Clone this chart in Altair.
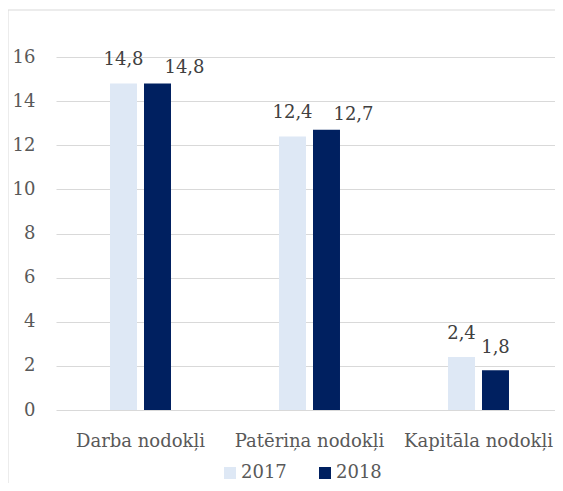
import altair as alt
import pandas as pd

categories = ["Darba nodokļi", "Patēriņa nodokļi", "Kapitāla nodokļi"]
years = ["2017", "2018"]
values_2017 = [14.8, 12.4, 2.4]
values_2018 = [14.8, 12.7, 1.8]
y_ticks = [0, 2, 4, 6, 8, 10, 12, 14, 16]

rows = []
for c, a, b in zip(categories, values_2017, values_2018):
    rows.append({"cat": c, "year": "2017", "value": a})
    rows.append({"cat": c, "year": "2018", "value": b})
df = pd.DataFrame(rows)

FONT = "DejaVu Serif"
FS = 18
W, H = 499, 353

x_scale = alt.Scale(paddingInner=0.438, paddingOuter=0.219, range=[0, 507])
x_enc = alt.X("cat:N", sort=categories, title=None, scale=x_scale,
              axis=alt.Axis(domain=False, ticks=False, labelAngle=0, labelLimit=0,
                            labelFont=FONT, labelFontSize=18, labelColor="#595959",
                            labelBaseline="alphabetic", labelPadding=36))
xo_enc = alt.XOffset("year:N", sort=years,
                     scale=alt.Scale(paddingInner=0.206, paddingOuter=0.5))
y_enc = alt.Y("value:Q", title=None,
              scale=alt.Scale(domain=[0, 16], nice=False),
              axis=alt.Axis(values=y_ticks, domain=False, ticks=False,
                            grid=True, gridColor="#d9d9d9", gridWidth=1,
                            labelFont=FONT, labelFontSize=FS, labelColor="#595959",
                            labelPadding=21))

base = alt.Chart(df).transform_calculate(
    label="replace(format(datum.value, '.1f'), '.', ',')"
)

bars = base.mark_bar().encode(
    x=x_enc, xOffset=xo_enc, y=y_enc,
    color=alt.Color("year:N", sort=years,
                    scale=alt.Scale(domain=years, range=["#dee8f5", "#002060"]),
                    legend=alt.Legend(orient="none", legendX=165, legendY=407,
                                      direction="horizontal", title=None,
                                      symbolType="square", symbolSize=144,
                                      symbolStrokeWidth=0, labelFont=FONT,
                                      labelFontSize=FS, labelColor="#595959",
                                      labelOffset=2, columnPadding=29, padding=0)),
)

def labels(filt, dx, dy):
    return base.transform_filter(filt).mark_text(
        font=FONT, fontSize=FS, color="#404040", baseline="alphabetic",
        align="center", dx=dx, dy=dy
    ).encode(x=alt.X("cat:N", sort=categories, scale=x_scale), xOffset=xo_enc,
             y=alt.Y("value:Q"), text="label:N")

t1 = labels("datum.year == '2017'", 0, -18)
t2 = labels("datum.year == '2018' && datum.value > 5", 27, -10)
t3 = labels("datum.year == '2018' && datum.value <= 5", 0, -17)

frame_data = alt.Data(values=[{"k": 1}])
frame_v = alt.Chart(frame_data).mark_rule(color="#d9d9d9", strokeWidth=1).encode(
    x=alt.value(-48), y=alt.value(-47), y2=alt.value(440))
frame_h = alt.Chart(frame_data).mark_rule(color="#d9d9d9", strokeWidth=1).encode(
    x=alt.value(-48), x2=alt.value(W), y=alt.value(-47))

chart = alt.layer(frame_v, frame_h, bars, t1, t2, t3).properties(
    width=W, height=H,
    autosize=alt.AutoSizeParams(type="none"),
    padding={"left": 48, "top": 49, "right": 0, "bottom": 73},
).configure(background="white", font=FONT).configure_view(stroke=None)

chart.save("out.html", embed_options={"renderer": "svg", "actions": False})
